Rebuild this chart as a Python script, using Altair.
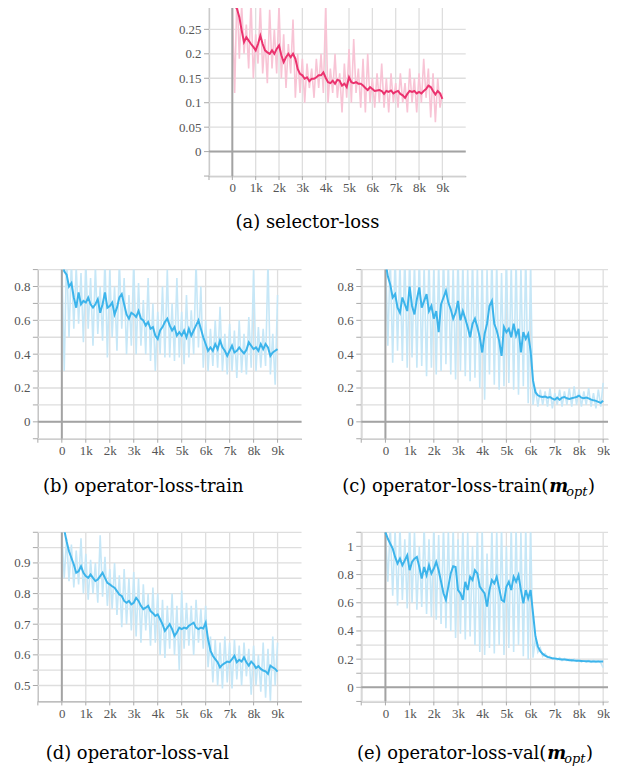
import altair as alt
import pandas as pd

steps = list(range(0, 9001, 100))

a_smooth = [0.33,0.299,0.292,0.275,0.248,0.224,0.234,0.227,0.22,0.214,
0.207,0.22,0.237,0.22,0.207,0.203,0.2,0.207,0.2,0.21,
0.217,0.197,0.183,0.193,0.2,0.193,0.2,0.19,0.169,0.159,
0.156,0.149,0.152,0.144,0.149,0.149,0.152,0.156,0.156,0.162,
0.151,0.142,0.14,0.145,0.139,0.147,0.145,0.135,0.139,0.132,
0.152,0.142,0.14,0.142,0.139,0.139,0.135,0.13,0.126,0.132,
0.128,0.124,0.125,0.126,0.124,0.118,0.124,0.122,0.125,0.119,
0.122,0.124,0.118,0.115,0.11,0.118,0.124,0.122,0.124,0.119,
0.122,0.119,0.124,0.128,0.135,0.132,0.124,0.117,0.124,0.119,
0.108]
a_raw = [0.30,0.12,0.33,0.19,0.30,0.20,0.26,0.17,0.31,0.15,
0.24,0.18,0.30,0.16,0.23,0.14,0.29,0.17,0.25,0.16,
0.30,0.15,0.24,0.13,0.22,0.16,0.27,0.11,0.20,0.12,
0.19,0.10,0.18,0.13,0.17,0.11,0.19,0.13,0.20,0.12,
0.30,0.10,0.17,0.12,0.20,0.11,0.16,0.08,0.18,0.11,
0.21,0.10,0.23,0.12,0.17,0.09,0.19,0.08,0.20,0.10,
0.15,0.09,0.16,0.10,0.18,0.09,0.15,0.08,0.16,0.10,
0.14,0.09,0.16,0.10,0.14,0.08,0.17,0.10,0.15,0.08,
0.16,0.10,0.19,0.11,0.17,0.07,0.16,0.06,0.15,0.09,
0.12]

b_smooth = [1.0,0.89,0.87,0.80,0.82,0.735,0.675,0.765,0.695,0.715,
0.705,0.735,0.695,0.675,0.695,0.725,0.645,0.695,0.765,0.675,
0.685,0.705,0.635,0.675,0.735,0.755,0.695,0.635,0.61,0.645,
0.635,0.62,0.655,0.61,0.60,0.57,0.59,0.55,0.56,0.51,
0.49,0.54,0.56,0.59,0.61,0.57,0.54,0.56,0.51,0.53,
0.51,0.54,0.50,0.55,0.51,0.54,0.57,0.60,0.55,0.50,
0.46,0.42,0.44,0.42,0.46,0.43,0.48,0.44,0.42,0.39,
0.42,0.45,0.41,0.42,0.44,0.42,0.405,0.425,0.47,0.45,
0.43,0.44,0.42,0.46,0.43,0.46,0.44,0.39,0.41,0.42,
0.43]
b_raw = [0.95,0.30,1.0,0.50,0.95,0.55,0.92,0.58,0.88,0.47,
0.95,0.55,0.85,0.45,0.92,0.52,0.80,0.48,0.97,0.38,
0.90,0.50,0.80,0.42,0.95,0.55,0.85,0.40,0.75,0.45,
0.95,0.40,0.82,0.45,0.72,0.40,0.85,0.36,0.70,0.30,
0.65,0.40,0.80,0.38,0.90,0.38,0.70,0.36,0.85,0.38,
0.65,0.34,0.75,0.38,0.66,0.40,0.95,0.44,0.80,0.32,
0.60,0.30,0.55,0.33,0.60,0.32,0.68,0.30,0.52,0.28,
0.58,0.30,0.54,0.26,0.60,0.29,0.52,0.28,0.62,0.32,
0.90,0.30,0.56,0.32,0.55,0.33,0.95,0.28,0.52,0.22,
0.75]

c_smooth = [0.95,0.86,0.81,0.735,0.755,0.675,0.645,0.735,0.695,0.655,
0.80,0.685,0.635,0.725,0.795,0.675,0.715,0.755,0.655,0.685,
0.61,0.655,0.53,0.695,0.735,0.775,0.705,0.665,0.61,0.645,
0.715,0.60,0.655,0.61,0.56,0.50,0.58,0.61,0.56,0.50,
0.41,0.52,0.58,0.685,0.715,0.58,0.54,0.48,0.39,0.56,
0.53,0.55,0.50,0.58,0.51,0.55,0.41,0.53,0.49,0.52,
0.42,0.245,0.175,0.157,0.15,0.147,0.15,0.143,0.147,0.137,
0.131,0.143,0.131,0.143,0.147,0.139,0.135,0.139,0.143,0.147,
0.155,0.143,0.139,0.143,0.139,0.131,0.127,0.124,0.118,0.112,
0.124]
c_raw = [1.0,0.45,0.98,0.35,1.0,0.42,0.95,0.36,1.0,0.32,
0.98,0.38,0.95,0.32,1.0,0.33,0.93,0.27,0.98,0.32,
0.92,0.28,0.95,0.30,1.0,0.34,0.96,0.28,0.92,0.25,
1.0,0.30,0.95,0.27,0.90,0.24,0.98,0.26,0.92,0.20,
0.95,0.13,0.90,0.28,1.0,0.22,0.95,0.19,0.88,0.21,
1.0,0.23,0.93,0.19,0.98,0.16,0.92,0.21,1.0,0.11,
0.92,0.10,0.20,0.09,0.19,0.10,0.18,0.09,0.20,0.08,
0.17,0.10,0.19,0.09,0.18,0.10,0.20,0.09,0.21,0.10,
0.19,0.09,0.18,0.10,0.20,0.09,0.17,0.08,0.19,0.09,
0.23]

d_smooth = [1.03,1.008,0.97,0.938,0.916,0.895,0.868,0.873,0.889,0.868,
0.857,0.851,0.862,0.851,0.841,0.846,0.857,0.868,0.851,0.835,
0.83,0.824,0.819,0.808,0.797,0.792,0.776,0.77,0.776,0.765,
0.77,0.786,0.776,0.76,0.749,0.754,0.76,0.743,0.736,0.727,
0.732,0.716,0.70,0.678,0.689,0.70,0.684,0.662,0.673,0.689,
0.684,0.689,0.686,0.695,0.70,0.705,0.689,0.684,0.689,0.686,
0.705,0.651,0.614,0.597,0.586,0.576,0.559,0.568,0.573,0.578,
0.576,0.586,0.597,0.576,0.584,0.578,0.592,0.576,0.565,0.578,
0.57,0.557,0.563,0.554,0.549,0.546,0.538,0.565,0.559,0.554,
0.545]
d_raw = [1.0,0.85,0.98,0.84,0.96,0.82,0.94,0.83,0.98,0.80,
0.93,0.78,0.91,0.80,0.90,0.77,0.99,0.79,0.92,0.76,
0.88,0.75,0.90,0.73,0.86,0.69,0.88,0.70,0.85,0.68,
0.87,0.66,0.85,0.64,0.83,0.68,0.80,0.63,0.82,0.64,
0.80,0.60,0.78,0.59,0.76,0.62,0.80,0.60,0.76,0.55,
0.81,0.62,0.77,0.63,0.76,0.60,0.78,0.64,0.75,0.62,
0.76,0.56,0.66,0.51,0.65,0.50,0.64,0.49,0.66,0.51,
0.64,0.49,0.65,0.52,0.63,0.50,0.64,0.53,0.62,0.47,
0.63,0.50,0.60,0.48,0.64,0.46,0.62,0.45,0.66,0.50,
0.64]

e_smooth = [1.1,1.054,1.019,0.984,0.925,0.878,0.913,0.866,0.901,0.937,
0.831,0.89,0.913,0.925,0.854,0.772,0.854,0.796,0.866,0.808,
0.843,0.89,0.831,0.749,0.667,0.62,0.714,0.808,0.859,0.854,
0.69,0.667,0.62,0.749,0.69,0.784,0.761,0.831,0.808,0.714,
0.69,0.667,0.573,0.69,0.761,0.737,0.784,0.702,0.62,0.608,
0.714,0.749,0.69,0.784,0.749,0.796,0.69,0.596,0.69,0.631,
0.69,0.526,0.362,0.291,0.256,0.237,0.225,0.216,0.211,0.207,
0.204,0.202,0.2,0.198,0.197,0.195,0.193,0.192,0.19,0.189,
0.188,0.187,0.186,0.185,0.185,0.184,0.184,0.183,0.183,0.183,
0.183]
e_raw = [1.1,0.75,1.15,0.65,1.12,0.58,1.15,0.62,1.05,0.56,
1.15,0.60,1.10,0.55,1.0,0.57,1.15,0.52,1.05,0.50,
1.15,0.48,1.08,0.45,1.15,0.42,1.12,0.40,1.15,0.35,
1.05,0.38,1.15,0.34,1.10,0.36,1.0,0.30,1.15,0.25,
1.12,0.23,0.95,0.28,1.15,0.24,1.12,0.30,1.15,0.23,
1.0,0.28,1.15,0.25,1.15,0.30,1.10,0.22,1.15,0.20,
1.15,0.21,0.35,0.25,0.28,0.22,0.24,0.21,0.22,0.20,
0.215,0.195,0.21,0.19,0.205,0.19,0.2,0.185,0.2,0.185,
0.195,0.18,0.19,0.18,0.19,0.178,0.19,0.178,0.188,0.175,
0.14]

x_labels = list(range(0, 9001, 1000))
x_ticks = list(range(-1000, 9001, 1000))

a_grid = [-0.05, 0, 0.05, 0.1, 0.15, 0.2, 0.25, 0.3]
a_labels = [0, 0.05, 0.1, 0.15, 0.2, 0.25]
bc_grid = [-0.1, 0, 0.1, 0.2, 0.3, 0.4, 0.5, 0.6, 0.7, 0.8, 0.9]
bc_labels = [0, 0.2, 0.4, 0.6, 0.8]
d_grid = [0.5, 0.55, 0.6, 0.65, 0.7, 0.75, 0.8, 0.85, 0.9, 0.95, 1.0]
d_labels = [0.5, 0.6, 0.7, 0.8, 0.9]
e_grid = [-0.1, 0, 0.1, 0.2, 0.3, 0.4, 0.5, 0.6, 0.7, 0.8, 0.9, 1.0, 1.1]
e_labels = [0, 0.2, 0.4, 0.6, 0.8, 1]

PINK = "#eb326e"
PINK_RAW = "#f8c4d5"
BLUE = "#3cb4eb"
BLUE_RAW = "#c6e7f7"
FONT = "Liberation Serif"
CAPFONT = "DejaVu Serif"
GRID = "#dedede"
ZERO = "#a3a3a3"
AXC = "#a8a8a8"


def caption_plain(text, x, y):
    return alt.Chart(pd.DataFrame({"t": [text]})).mark_text(
        font=CAPFONT, fontSize=18, color="black", align="center", baseline="middle"
    ).encode(text="t:N", x=alt.value(x), y=alt.value(y))


def caption_math(prefix, x_end, y):
    parts = [
        (prefix, x_end, y, 18, "normal", "normal", "right"),
        ("m", x_end + 1, y, 18, "italic", "bold", "left"),
        ("opt", x_end + 18, y + 5, 13, "italic", "normal", "left"),
        (")", x_end + 40, y, 18, "normal", "normal", "left"),
    ]
    layers = []
    for txt, px, py, fs, st, wt, al in parts:
        layers.append(
            alt.Chart(pd.DataFrame({"t": [txt]})).mark_text(
                font=CAPFONT, fontSize=fs, fontStyle=st, fontWeight=wt,
                color="black", align=al, baseline="middle"
            ).encode(text="t:N", x=alt.value(px), y=alt.value(py))
        )
    return layers


def panel(raw, smooth, c_raw, c_smooth, xmax, width, ydom, ygrid, ylabels,
          height, captions):
    df = pd.DataFrame({"step": steps, "raw": raw, "smooth": smooth})
    xscale = alt.Scale(domain=[-1000, xmax], nice=False, zero=False)
    yscale = alt.Scale(domain=ydom, nice=False, zero=False)
    xaxis = alt.Axis(
        values=x_labels,
        labelExpr="datum.value == 0 ? '0' : (datum.value / 1000) + 'k'",
        grid=False, ticks=False, title=None,
        domainColor=AXC, domainWidth=1.2, labelPadding=6,
        labelFont=FONT, labelFontSize=13, labelColor="#555", labelFlush=False,
        labelOverlap=False, labelBound=False,
    )
    yaxis = alt.Axis(
        values=ylabels, format="~g",
        grid=False, ticks=False, title=None,
        domainColor=AXC, domainWidth=1.2, labelPadding=8,
        labelFont=FONT, labelFontSize=13, labelColor="#555",
        labelOverlap=False, labelFlush=False, labelBound=False,
        minExtent=30, maxExtent=30,
    )

    def X(f):
        return alt.X(f, scale=xscale, axis=xaxis, title=None)

    def Y(f):
        return alt.Y(f, scale=yscale, axis=yaxis, title=None)

    hg = pd.DataFrame({"g": ygrid})
    vg = pd.DataFrame({"v": x_ticks})
    zdf = pd.DataFrame({"z": [0]})
    layers = [
        alt.Chart(hg).mark_rule(color=GRID, strokeWidth=1.3).encode(y=Y("g:Q")),
        alt.Chart(vg).mark_rule(color=GRID, strokeWidth=1.3).encode(x=X("v:Q")),
        alt.Chart(hg).mark_rule(color=AXC, strokeWidth=1).encode(
            y=Y("g:Q"), x=alt.value(-5), x2=alt.value(0)),
        alt.Chart(vg).mark_rule(color=AXC, strokeWidth=1).encode(
            x=X("v:Q"), y=alt.value(height), y2=alt.value(height + 4)),
    ]
    base = alt.Chart(df)
    layers.append(base.mark_line(color=c_raw, strokeWidth=1.6, clip=True).encode(
        x=X("step:Q"), y=Y("raw:Q")))
    layers.append(alt.Chart(zdf).mark_rule(color=ZERO, strokeWidth=2).encode(
        x=X("z:Q")))
    if ydom[0] < 0:
        layers.append(alt.Chart(zdf).mark_rule(color=ZERO, strokeWidth=2).encode(
            y=Y("z:Q")))
    layers.append(base.mark_line(color=c_smooth, strokeWidth=2, clip=True).encode(
        x=X("step:Q"), y=Y("smooth:Q")))
    layers.extend(captions)
    return alt.layer(*layers).properties(width=width, height=height)


pa = panel(a_raw, a_smooth, PINK_RAW, PINK, 10000, 258, [-0.05, 0.3],
           a_grid, a_labels, 172, [caption_plain("(a) selector-loss", 99, 219)])
pb = panel(b_raw, b_smooth, BLUE_RAW, BLUE, 10000, 265, [-0.1, 0.9],
           bc_grid, bc_labels, 170, [caption_plain("(b) operator-loss-train", 106, 219)])
pc = panel(c_raw, c_smooth, BLUE_RAW, BLUE, 9200, 248, [-0.1, 0.9],
           bc_grid, bc_labels, 170, caption_math("(c) operator-loss-train(", 188, 219))
pd_ = panel(d_raw, d_smooth, BLUE_RAW, BLUE, 10000, 265, [0.448, 1.0],
            d_grid, d_labels, 170, [caption_plain("(d) operator-loss-val", 100, 223)])
pe = panel(e_raw, e_smooth, BLUE_RAW, BLUE, 9200, 248, [-0.1, 1.1],
           e_grid, e_labels, 170, caption_math("(e) operator-loss-val(", 186, 223))

spacer = alt.Chart(pd.DataFrame({"v": [0]})).mark_point(opacity=0).encode(
    x=alt.value(0), y=alt.value(0)).properties(width=141, height=10)

row1 = alt.hconcat(spacer, pa, spacing=0)
row2 = alt.hconcat(pb, pc, spacing=29)
row3 = alt.hconcat(pd_, pe, spacing=29)
top = alt.vconcat(row1, row2, spacing=37)
chart = alt.vconcat(top, row3, spacing=32).properties(
    padding={"top": -8, "left": 0, "right": 0, "bottom": 0}
).configure_view(stroke=None)

chart.save("out.html", embed_options={"renderer": "svg", "actions": False})
